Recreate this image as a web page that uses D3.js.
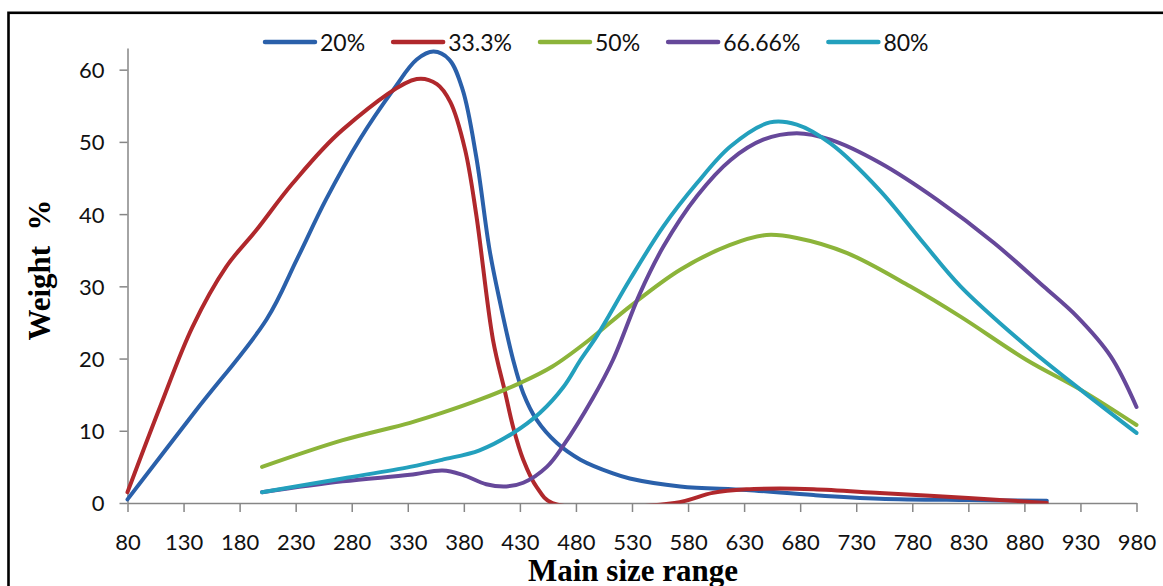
<!DOCTYPE html>
<html lang="en">
<head>
<meta charset="UTF-8">
<title>Weight % by main size range</title>
<style>
  body { margin: 0; background: #ffffff; }
  svg { display: block; }
  .axis path, .axis line { stroke: #868686; stroke-width: 1.5px; }
  .axis text { font-family: Lato, 'Open Sans', sans-serif; font-size: 22px; fill: #111; }
  .legend text { font-family: Lato, 'Open Sans', sans-serif; font-size: 23px; fill: #111; }
  .title { font-family: 'Liberation Serif', 'Times New Roman', serif; font-weight: bold; font-size: 31px; fill: #000; }
  .series { fill: none; stroke-width: 4px; stroke-linecap: round; stroke-linejoin: round; }
</style>
</head>
<body>
<svg id="chart" width="1163" height="586"></svg>
<script src="https://d3js.org/d3.v7.min.js"></script>
<script>
// tick labels
const xTicks = [80, 130, 180, 230, 280, 330, 380, 430, 480, 530, 580, 630, 680, 730, 780, 830, 880, 930, 980];
const yTicks = [0, 10, 20, 30, 40, 50, 60];

// series names + colours
const seriesNames = ["20%", "33.3%", "50%", "66.66%", "80%"];
const seriesColors = ["#2a60aa", "#b0282c", "#8cb43a", "#66489a", "#23a0bd"];

// values (size, weight %)
const size20 = [80, 141, 204, 231, 257, 287, 317, 338, 353, 367, 379, 391, 403, 412, 424, 433, 445, 463, 484, 513, 528, 573, 632, 692, 751, 830, 900];
const weight20 = [0.5, 12.8, 25.4, 33.7, 42, 50.3, 57.2, 61.4, 62.5, 61.4, 57.2, 48, 35, 28, 19.8, 15.2, 11.5, 8.3, 6, 4.1, 3.4, 2.3, 1.8, 1.1, 0.6, 0.4, 0.3];

const size33 = [80, 109, 138, 168, 195, 227, 272, 338, 356, 368, 381, 391, 406, 417, 424, 433, 445, 459, 568, 602, 632, 662, 692, 751, 830, 900];
const weight33 = [1.5, 13.3, 24.4, 32.7, 37.8, 44.2, 51.7, 58.7, 58.0, 55.5, 49, 40, 22.6, 15.2, 10.5, 6, 2.2, 0, 0, 1.4, 1.9, 2.0, 1.9, 1.4, 0.7, 0];

const size50 = [200, 272, 332, 361, 394, 430, 459, 492, 528, 573, 617, 650, 677, 722, 778, 823, 882, 930, 980];
const weight50 = [5.0, 8.7, 11.1, 12.5, 14.3, 16.6, 18.9, 22.6, 27.2, 32.3, 35.7, 37.1, 36.7, 34.6, 30, 25.8, 19.8, 15.7, 10.8];

const size66 = [200, 272, 332, 361, 379, 400, 418, 433, 454, 469, 495, 513, 537, 558, 588, 618, 647, 677, 707, 751, 802, 853, 897, 927, 957, 980];
const weight66 = [1.5, 3.0, 3.9, 4.5, 3.9, 2.6, 2.3, 2.8, 5, 8, 14.5, 19.8, 29, 35.5, 42.5, 47.5, 50.3, 51.2, 50.3, 47.1, 42, 36, 30, 25.8, 20.3, 13.3];

const size80 = [200, 272, 332, 361, 394, 424, 448, 469, 484, 499, 528, 558, 588, 618, 653, 677, 707, 751, 790, 823, 882, 930, 980];
const weight80 = [1.5, 3.4, 5.0, 6.0, 7.3, 9.7, 12.5, 16.1, 19.8, 23.2, 30.9, 38.3, 44.3, 49.4, 52.7, 52.4, 49.8, 43.3, 36, 30, 21.7, 15.7, 9.7];

const seriesSizes = [size20, size33, size50, size66, size80];
const seriesWeights = [weight20, weight33, weight50, weight66, weight80];

const svg = d3.select("#chart");

// outer frame (runs off the right / bottom of the picture)
svg.append("rect")
  .attr("x", 8.5).attr("y", 12.8)
  .attr("width", 1400).attr("height", 900)
  .attr("fill", "none").attr("stroke", "#000").attr("stroke-width", 2.6);

// caption cut off above the frame
svg.append("text").attr("class", "title")
  .attr("x", 912).attr("y", -8).text("g");

const x = d3.scaleLinear().domain([80, 980]).range([127.5, 1136.5]);
const y = d3.scaleLinear().domain([0, 63]).range([503, 48]);

// axes
const xAxis = svg.append("g").attr("class", "axis")
  .attr("transform", "translate(0,503)")
  .call(d3.axisBottom(x).tickValues(xTicks).tickSize(9).tickSizeOuter(0).tickFormat(d3.format("d")));
xAxis.selectAll("text").attr("y", 47).attr("dy", null);

const yAxis = svg.append("g").attr("class", "axis")
  .attr("transform", "translate(127.5,0)")
  .call(d3.axisLeft(y).tickValues(yTicks).tickSize(8).tickSizeOuter(0).tickPadding(15).tickFormat(d3.format("d")));
yAxis.selectAll("text").attr("dy", "0.36em");

// clip to plot area (the 33.3% curve dips below 0 and is hidden there)
svg.append("clipPath").attr("id", "plot")
  .append("rect").attr("x", 120).attr("y", 40).attr("width", 1030).attr("height", 463.5);

const line = d3.line()
  .x(d => x(d[0]))
  .y(d => y(d[1]))
  .curve(d3.curveCatmullRom.alpha(0.5));

svg.append("g").attr("clip-path", "url(#plot)")
  .selectAll("path")
  .data(seriesNames.map((name, i) => ({
    name,
    color: seriesColors[i],
    points: seriesSizes[i].map((s, j) => [s, seriesWeights[i][j]])
  })))
  .enter().append("path")
  .attr("class", "series")
  .attr("stroke", d => d.color)
  .attr("d", d => line(d.points));

// legend
const legend = svg.append("g").attr("class", "legend");
let lx = 263;
seriesNames.forEach((name, i) => {
  legend.append("line")
    .attr("x1", lx + 2).attr("x2", lx + 52)
    .attr("y1", 42).attr("y2", 42)
    .attr("stroke", seriesColors[i]).attr("stroke-width", 4.5)
    .attr("stroke-linecap", "round");
  const t = legend.append("text")
    .attr("x", lx + 57).attr("y", 51)
    .text(name);
  lx += 57 + t.node().getComputedTextLength() + 26;
});

// axis titles
svg.append("text").attr("class", "title")
  .attr("x", 633).attr("y", 581)
  .attr("text-anchor", "middle")
  .text("Main size range");

svg.append("text").attr("class", "title")
  .attr("transform", "translate(50,270) rotate(-90)")
  .attr("text-anchor", "middle")
  .style("white-space", "pre")
  .text("Weight  %");
</script>
</body>
</html>
